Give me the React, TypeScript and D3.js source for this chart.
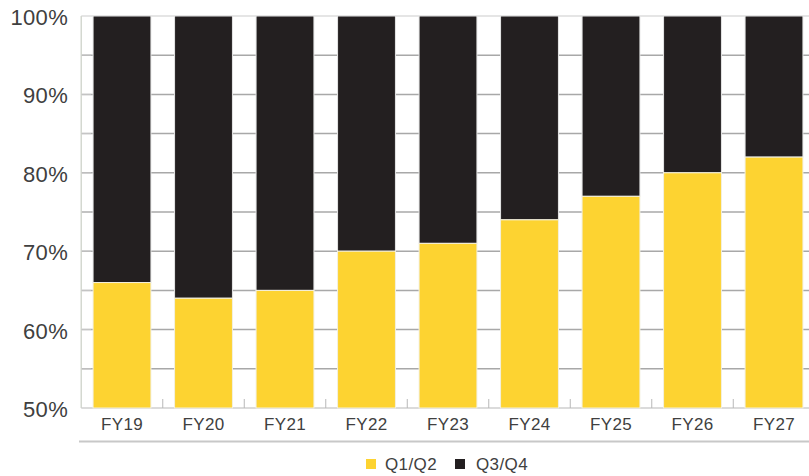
import React from "react";
import * as d3 from "d3";

const categories = ["FY19", "FY20", "FY21", "FY22", "FY23", "FY24", "FY25", "FY26", "FY27"];
const q12 = [66, 64, 65, 70, 71, 74, 77, 80, 82];
const yTicks = [50, 60, 70, 80, 90, 100];
const gridTicks = [55, 60, 65, 70, 75, 80, 85, 90, 95];
const seriesNames = ["Q1/Q2", "Q3/Q4"];
const colors = ["#FDD331", "#231F20"];

const W = 809;
const H = 476;
const left = 81.25;
const top = 16;
const bottom = 408;

export default function App() {
  const x = d3.scaleBand<string>().domain(categories).range([left, left + 81.5 * 9]).paddingInner(0.29).paddingOuter(0.145);
  const y = d3.scaleLinear().domain([50, 100]).range([bottom, top]);
  const font = "'Liberation Sans', Arial, Helvetica, sans-serif";
  const boundaries = categories.map((_, i) => left + 81.5 * (i + 1));

  return (
    <svg width={W} height={H} style={{ position: "absolute", left: 0, top: 0, background: "#fff" }}>
      {gridTicks.map((t) => (
        <line key={t} x1={left} x2={W} y1={y(t)} y2={y(t)} stroke="#a8a8a8" strokeWidth={1.5} />
      ))}
      <line x1={left} x2={W} y1={y(100)} y2={y(100)} stroke="#dcdcdc" strokeWidth={1.5} />
      <line x1={left} x2={left} y1={top} y2={bottom} stroke="#d4d8d0" strokeWidth={1.5} />
      {gridTicks.map((t) => (
        <line key={"lt" + t} x1={left} x2={left + 10} y1={y(t)} y2={y(t)} stroke="#c8c8c8" strokeWidth={1} />
      ))}
      <line x1={left} x2={W} y1={bottom} y2={bottom} stroke="#cfcfcf" strokeWidth={1.5} />
      {boundaries.map((b, i) => (
        <line key={"ct" + i} x1={b} x2={b} y1={bottom} y2={bottom - 9} stroke="#b8b8b8" strokeWidth={1} />
      ))}
      {categories.map((c, i) => (
        <g key={c}>
          <rect x={x(c)} y={y(100)} width={x.bandwidth()} height={y(q12[i]) - y(100)} fill={colors[1]} stroke="#e6e6e6" strokeWidth={1} />
          <rect x={x(c)} y={y(q12[i])} width={x.bandwidth()} height={y(50) - y(q12[i])} fill={colors[0]} stroke="#f3f0e0" strokeWidth={1} />
        </g>
      ))}
      {yTicks.map((t) => (
        <text key={"yl" + t} x={68} y={y(t) + 9} textAnchor="end" fontSize={22} fontFamily={font} fill="#404040" letterSpacing={0.3}>
          {t}%
        </text>
      ))}
      {categories.map((c) => (
        <text key={"xl" + c} x={(x(c) as number) + x.bandwidth() / 2} y={429.5} textAnchor="middle" fontSize={17} fontFamily={font} fill="#404040" letterSpacing={0.3}>
          {c}
        </text>
      ))}
      <line x1={79} x2={W} y1={441.5} y2={441.5} stroke="#c8c8c8" strokeWidth={2} />
      <rect x={366} y={459} width={10} height={10} fill={colors[0]} />
      <text x={385} y={469.5} fontSize={17} fontFamily={font} fill="#404040" letterSpacing={0.4}>{seriesNames[0]}</text>
      <rect x={455} y={459} width={10} height={10} fill={colors[1]} />
      <text x={476} y={469.5} fontSize={17} fontFamily={font} fill="#404040" letterSpacing={0.4}>{seriesNames[1]}</text>
    </svg>
  );
}
